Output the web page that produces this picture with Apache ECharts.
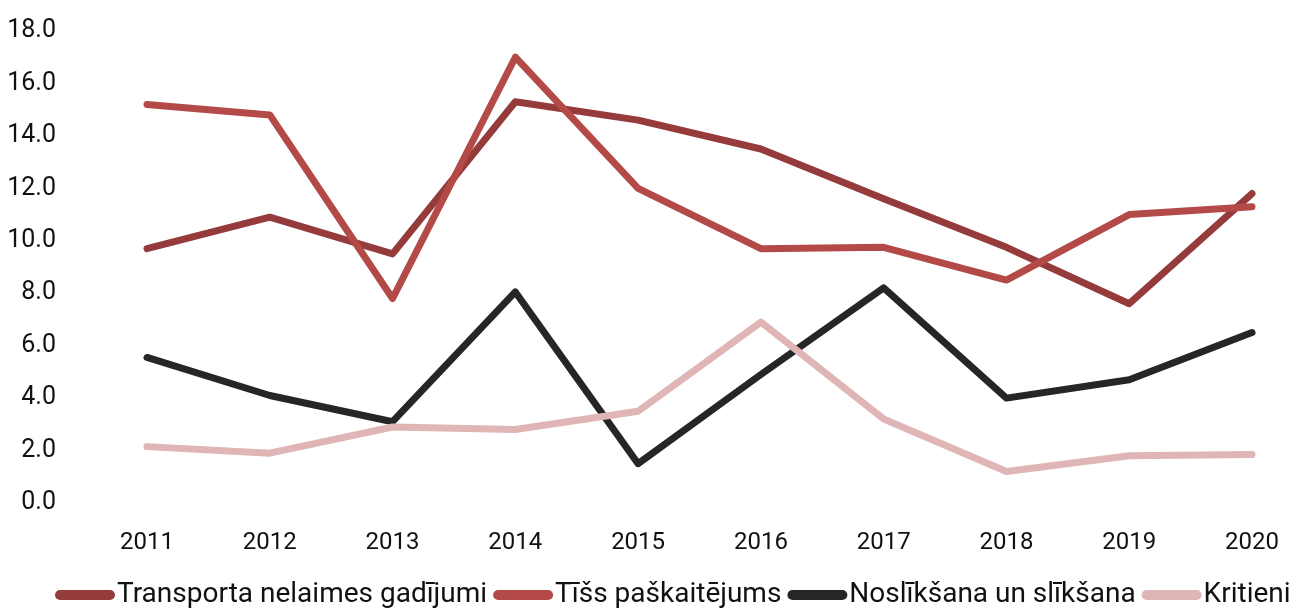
<!DOCTYPE html>
<html>
<head>
<meta charset="utf-8">
<script src="https://cdn.jsdelivr.net/npm/echarts@6/dist/echarts.min.js"></script>
<style>
  html, body { margin: 0; padding: 0; background: #fff; }
  #chart { width: 1301px; height: 611px; }
</style>
</head>
<body>
<div id="chart"></div>
<script>
// categories
const years = ['2011', '2012', '2013', '2014', '2015', '2016', '2017', '2018', '2019', '2020']

// series values
const transports = [9.7, 10.9, 9.5, 15.3, 14.6, 13.5, 11.6, 9.75, 7.6, 11.8]
const tissPaskaitejums = [15.2, 14.8, 7.8, 17.0, 12.0, 9.7, 9.75, 8.5, 11.0, 11.3]
const nosliksana = [5.55, 4.1, 3.1, 8.05, 1.5, 4.9, 8.2, 4.0, 4.7, 6.5]
const kritieni = [2.15, 1.9, 2.9, 2.8, 3.5, 6.9, 3.2, 1.2, 1.8, 1.85]

const seriesNames = ['Transporta nelaimes gadījumi', 'Tīšs paškaitējums', 'Noslīkšana un slīkšana', 'Kritieni']
const colors = ['#953b3b', '#b34a48', '#262626', '#dfb5b5']

const fontName = 'Roboto'
// rounded pill for legend markers
const pill = 'path://M5,0 L55,0 A5,5 0 0 1 55,10 L5,10 A5,5 0 0 1 5,0 Z'

let myChart = echarts.init(document.getElementById('chart'))

function makeLine (name, data, color) {
    return {
        name: name,
        type: 'line',
        data: data,
        symbol: 'none',
        color: color,
        lineStyle: {
            width: 7,
            color: color,
            cap: 'round',
            join: 'round'
        }
    }
}

let option = {
    animation: false,
    textStyle: { fontFamily: fontName },
    grid: {
        left: 147,
        right: 49,
        top: 31,
        bottom: 108,
        containLabel: false
    },
    legend: {
        bottom: -3,
        left: 50,
        itemWidth: 60,
        itemHeight: 10,
        itemGap: 6,
        icon: pill,
        textStyle: {
            fontFamily: fontName,
            fontSize: 28,
            color: '#111',
            padding: [0, 0, 0, -3]
        },
        data: seriesNames
    },
    xAxis: {
        type: 'category',
        data: years,
        boundaryGap: false,
        axisLine: { show: false },
        axisTick: { show: false },
        axisLabel: {
            margin: 28,
            fontSize: 24,
            color: '#111'
        }
    },
    yAxis: {
        type: 'value',
        min: 0,
        max: 18,
        interval: 2,
        splitLine: { show: false },
        axisLine: { show: false },
        axisTick: { show: false },
        axisLabel: {
            margin: 91,
            fontSize: 25,
            color: '#111',
            formatter: function (v) { return v.toFixed(1) }
        }
    },
    series: [
        makeLine(seriesNames[0], transports, colors[0]),
        makeLine(seriesNames[1], tissPaskaitejums, colors[1]),
        makeLine(seriesNames[2], nosliksana, colors[2]),
        makeLine(seriesNames[3], kritieni, colors[3])
    ]
}

myChart.setOption(option)
</script>
</body>
</html>
